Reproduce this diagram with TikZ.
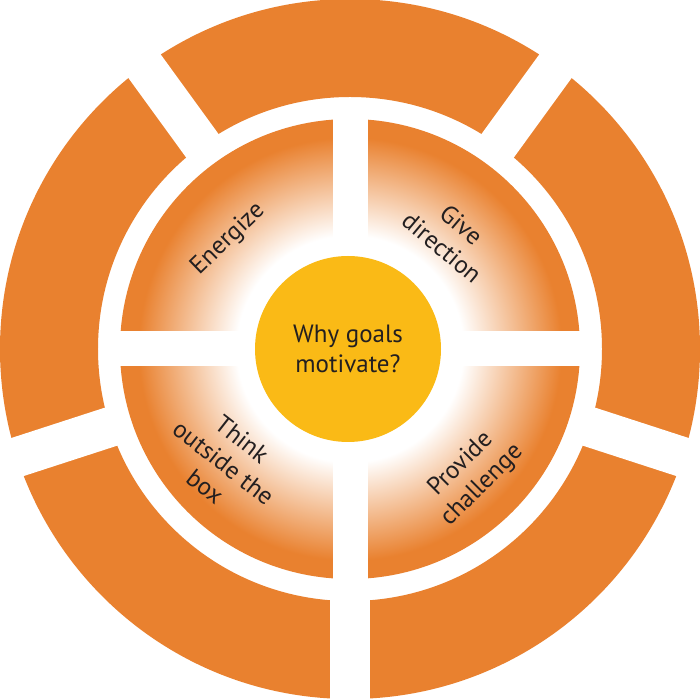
\documentclass[tikz,border=0pt]{standalone}
\usepackage{fontspec}
\setmainfont{PT Sans}
\definecolor{ringorange}{RGB}{233,129,47}
\definecolor{coreyellow}{RGB}{250,186,22}
\definecolor{labeltext}{RGB}{35,31,32}
\pgfdeclareradialshading{quadshade}{\pgfpoint{0bp}{0bp}}{color(0bp)=(white); color(12.3bp)=(white); color(23bp)=(ringorange); color(50bp)=(ringorange)}
\tikzset{
  lbl/.style={text=labeltext, align=center, inner sep=0pt, font=\fontsize{25pt}{30pt}\selectfont},
  outergap/.style={white, line width=40pt},
  innergap/.style={white, line width=35pt}
}
\begin{document}
\begin{tikzpicture}
\useasboundingbox (-350pt,-351pt) rectangle (350pt,349pt);
\fill[white] (-350pt,-351pt) rectangle (350pt,349pt);
% outer ring with five segments
\fill[ringorange, even odd rule] (0,0) circle (350pt) (0,0) circle (252pt);
\foreach \a in {54,126,198,270,342}
  \draw[outergap] (\a:240pt) -- (\a:365pt);
% inner ring with four shaded quadrants
\shade[shading=quadshade, even odd rule] (0,0) circle (230pt) (0,0) circle (113pt);
\foreach \a in {0,90,180,270}
  \draw[innergap] (\a:100pt) -- (\a:240pt);
% core
\fill[coreyellow] (-2pt,0pt) circle (93pt);
\node[lbl] (core) at (-2pt,0pt) {Why goals\\motivate?};
\node[lbl, rotate=44] (energize) at (138:164pt) {Energize};
\node[lbl, rotate=-40] (direction) at (48:152pt) {Give\\direction};
\node[lbl, rotate=-38] (think) at (222:170pt) {Think\\outside the\\box};
\node[lbl, rotate=45] (challenge) at (-46:175pt) {Provide\\challenge};
\end{tikzpicture}
\end{document}
